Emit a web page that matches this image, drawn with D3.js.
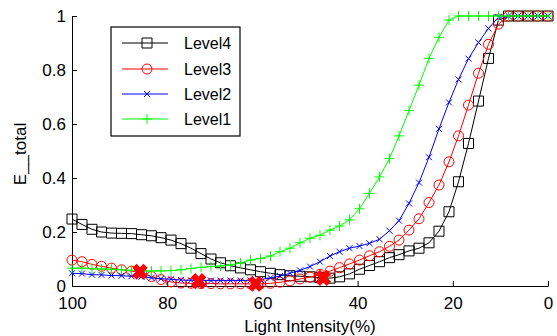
<!DOCTYPE html>
<html>
<head>
<meta charset="utf-8">
<script src="https://d3js.org/d3.v7.min.js"></script>
<style>
  html, body { margin: 0; padding: 0; background: #fff; }
  svg { display: block; }
</style>
</head>
<body>
<div id="chart"></div>
<script>
// light intensity (%) of each sample, 100 down to 0
const intensity = [100, 97.9, 95.8, 93.8, 91.7, 89.6, 87.5, 85.4, 83.3, 81.3,
    79.2, 77.1, 75, 72.9, 70.8, 68.8, 66.7, 64.6, 62.5, 60.4,
    58.3, 56.3, 54.2, 52.1, 50, 47.9, 45.8, 43.8, 41.7, 39.6,
    37.5, 35.4, 33.3, 31.3, 29.2, 27.1, 25, 22.9, 20.8, 18.8,
    16.7, 14.6, 12.5, 10.4, 8.3, 6.3, 4.2, 2.1, 0];

const level4 = [0.248, 0.228, 0.21, 0.2, 0.196, 0.195, 0.194, 0.19, 0.186, 0.179,
    0.17, 0.157, 0.14, 0.12, 0.1, 0.086, 0.075, 0.067, 0.06, 0.053,
    0.047, 0.042, 0.038, 0.036, 0.034, 0.031, 0.029, 0.034, 0.045, 0.062,
    0.076, 0.09, 0.105, 0.116, 0.13, 0.14, 0.16, 0.203, 0.275, 0.386,
    0.528, 0.685, 0.843, 0.985, 1, 1, 1, 1, 1];

const level3 = [0.096, 0.09, 0.08, 0.073, 0.066, 0.06, 0.055, 0.05, 0.035, 0.024,
    0.015, 0.011, 0.01, 0.009, 0.009, 0.008, 0.008, 0.008, 0.008, 0.008,
    0.01, 0.014, 0.019, 0.026, 0.033, 0.043, 0.055, 0.068, 0.082, 0.096,
    0.112, 0.127, 0.147, 0.17, 0.207, 0.249, 0.309, 0.374, 0.46, 0.556,
    0.67, 0.788, 0.895, 0.97, 1, 1, 1, 1, 1];

const level2 = [0.047, 0.046, 0.042, 0.041, 0.039, 0.038, 0.036, 0.034, 0.03, 0.027,
    0.025, 0.022, 0.021, 0.02, 0.02, 0.02, 0.02, 0.02, 0.021, 0.024,
    0.03, 0.037, 0.047, 0.058, 0.072, 0.09, 0.111, 0.127, 0.14, 0.148,
    0.158, 0.173, 0.205, 0.242, 0.306, 0.383, 0.477, 0.582, 0.68, 0.765,
    0.842, 0.902, 0.954, 0.995, 1, 1, 1, 1, 1];

const level1 = [0.066, 0.066, 0.064, 0.063, 0.062, 0.06, 0.058, 0.056, 0.055, 0.056,
    0.057, 0.06, 0.065, 0.069, 0.072, 0.074, 0.078, 0.085, 0.096, 0.102,
    0.111, 0.127, 0.14, 0.16, 0.177, 0.188, 0.207, 0.222, 0.245, 0.286,
    0.343, 0.404, 0.472, 0.556, 0.65, 0.744, 0.843, 0.921, 0.985, 1,
    1, 1, 1, 1, 1, 1, 1, 1, 1];

// minimum of each level (red crosses)
const minIntensity = [85.7, 73.4, 61.4, 47.2];
const minValue = [0.053, 0.018, 0.008, 0.03];

const xTicks = [100, 80, 60, 40, 20, 0];
const yTicks = [0, 0.2, 0.4, 0.6, 0.8, 1];

const series = [
    { name: 'Level4', color: '#000000', marker: 'square', values: level4 },
    { name: 'Level3', color: '#ff0000', marker: 'circle', values: level3 },
    { name: 'Level2', color: '#0000ff', marker: 'cross', values: level2 },
    { name: 'Level1', color: '#00ff00', marker: 'plus', values: level1 },
];

const width = 557;
const height = 336;
const margin = { top: 16, right: 9, bottom: 50, left: 72 };
const fontFamily = "'Liberation Sans', Arial, Helvetica, sans-serif";

const x = d3.scaleLinear()
    .domain([100, 0])
    .range([margin.left, width - margin.right]);

const y = d3.scaleLinear()
    .domain([0, 1])
    .range([height - margin.bottom, margin.top]);

const svg = d3.select('#chart')
    .append('svg')
    .attr('width', width)
    .attr('height', height);

const markerPath = {
    square: 'M-5,-5h10v10h-10z',
    cross: 'M-3,-3L3,3M-3,3L3,-3',
    plus: 'M-5,0H5M0,-5V5',
};

function drawMarker(sel, type, color) {
    if (type === 'circle') {
        sel.append('circle')
            .attr('r', 5)
            .attr('fill', 'none')
            .attr('stroke', color)
            .attr('stroke-width', 1);
    } else {
        sel.append('path')
            .attr('d', markerPath[type])
            .attr('fill', 'none')
            .attr('stroke', color)
            .attr('stroke-width', 1);
    }
}

// axes, ticks pointing inward like matlab
const xAxis = svg.append('g')
    .attr('transform', `translate(0,${height - margin.bottom})`)
    .call(d3.axisBottom(x).tickValues(xTicks).tickSizeInner(-5).tickSizeOuter(0).tickPadding(11).tickFormat(d3.format('~g')));

const yAxis = svg.append('g')
    .attr('transform', `translate(${margin.left},0)`)
    .call(d3.axisLeft(y).tickValues(yTicks).tickSizeInner(-5).tickSizeOuter(0).tickPadding(6).tickFormat(d3.format('~g')));

[xAxis, yAxis].forEach(a => {
    a.selectAll('text')
        .style('font-size', '17px')
        .style('font-family', fontFamily)
        .attr('fill', '#000');
    a.selectAll('line, path').attr('stroke', '#000');
});

svg.append('text')
    .attr('x', (margin.left + width - margin.right) / 2)
    .attr('y', 332)
    .attr('text-anchor', 'middle')
    .style('font-size', '17px')
    .style('font-family', fontFamily)
    .text('Light Intensity(%)');

svg.append('text')
    .attr('transform', `translate(26,${(margin.top + height - margin.bottom) / 2 + 3}) rotate(-90)`)
    .attr('text-anchor', 'middle')
    .style('font-size', '17px')
    .style('font-family', fontFamily)
    .text('E__total');

// curves
const line = d3.line()
    .x((d, i) => x(intensity[i]))
    .y(d => y(d));

series.forEach(s => {
    svg.append('path')
        .datum(s.values)
        .attr('fill', 'none')
        .attr('stroke', s.color)
        .attr('stroke-width', 1)
        .attr('d', line);

    svg.append('g')
        .selectAll('g')
        .data(s.values)
        .join('g')
        .attr('transform', (d, i) => `translate(${x(intensity[i])},${y(d)})`)
        .each(function () { drawMarker(d3.select(this), s.marker, s.color); });
});

// red crosses at each level's minimum
svg.append('g')
    .selectAll('path')
    .data(minIntensity)
    .join('path')
    .attr('transform', (d, i) => `translate(${x(d)},${y(minValue[i])})`)
    .attr('d', 'M-5.5,-6L5.5,6M-5.5,6L5.5,-6')
    .attr('stroke', '#ff0000')
    .attr('stroke-width', 6)
    .attr('fill', 'none');

// legend
const legend = svg.append('g')
    .attr('transform', 'translate(111,27)');

legend.append('rect')
    .attr('width', 129)
    .attr('height', 109)
    .attr('fill', '#fff')
    .attr('stroke', '#000')
    .attr('stroke-width', 1.2);

const rowY = [16, 42, 67, 92];
series.forEach((s, i) => {
    const row = legend.append('g').attr('transform', `translate(0,${rowY[i]})`);
    row.append('line')
        .attr('x1', 11)
        .attr('x2', 57)
        .attr('stroke', s.color)
        .attr('stroke-width', 1);
    drawMarker(row.append('g').attr('transform', 'translate(36,0)'), s.marker, s.color);
    row.append('text')
        .attr('x', 73)
        .attr('dy', '0.35em')
        .style('font-size', '16px')
        .style('font-family', fontFamily)
        .text(s.name);
});
</script>
</body>
</html>
